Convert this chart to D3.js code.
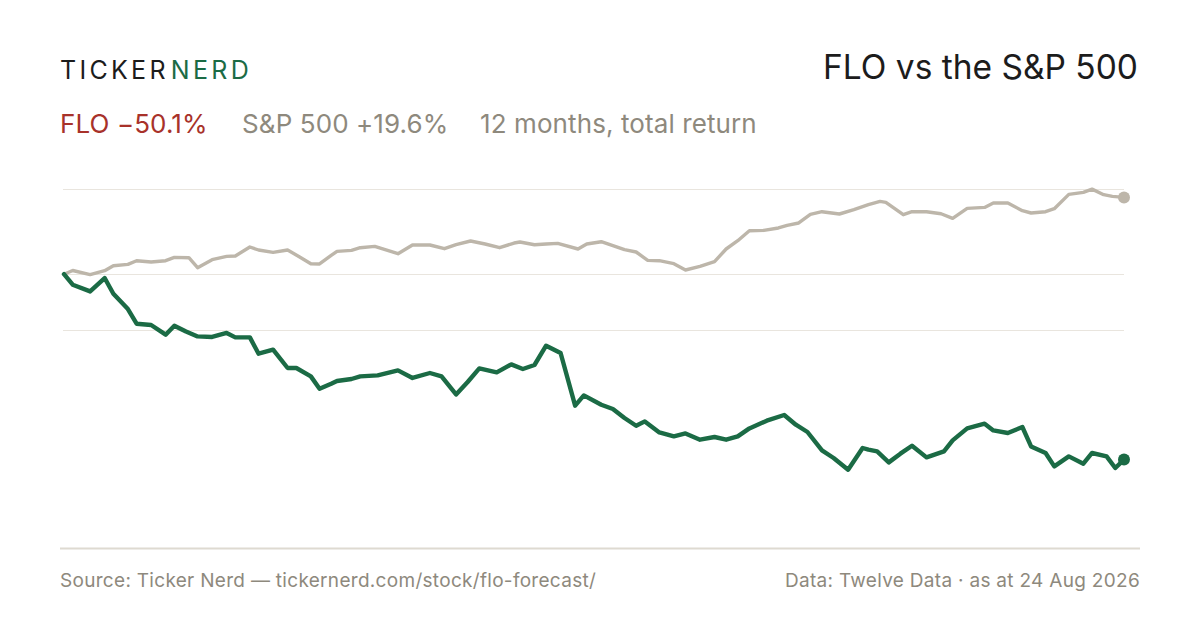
<!DOCTYPE html>
<html>
<head>
<meta charset="utf-8">
<script src="https://cdn.jsdelivr.net/npm/d3@7/dist/d3.min.js"></script>
<style>
  html, body { margin: 0; padding: 0; background: #ffffff; }
  svg { display: block; }
  text { font-family: Inter, "Noto Sans", "Liberation Sans", sans-serif; }
</style>
</head>
<body>
<svg id="chart" width="1200" height="630"></svg>
<script>
// ---- Data ----
const startDate = "2025-08-24";
const endDate = "2026-08-24";

// day offsets from start date, and cumulative return in %
const spxDays = [0,3,9,14,17,22,25,30,35,38,43,46,51,56,59,64,67,72,77,81,85,88,92,94,99,102,107,115,120,126,131,135,140,145,150,155,157,162,166,170,177,180,185,188,193,197,201,205,210,214,219,224,228,232,236,241,246,249,253,257,261,267,272,277,281,283,289,292,297,302,306,311,317,320,325,330,333,338,341,346,351,354,358,361,365];
const spxReturns = [0,1.0,-0.1,0.95,2.3,2.65,3.65,3.3,3.65,4.54,4.46,1.76,3.92,4.81,4.92,7.35,6.54,5.89,6.54,4.73,2.84,2.76,5.08,6.16,6.43,7.16,7.51,5.54,7.89,7.89,6.89,7.97,8.97,8.16,7.16,8.43,8.70,7.97,8.16,8.32,6.81,8.16,8.78,7.97,6.62,6.0,3.73,3.65,2.84,1.14,2.11,3.38,6.81,9.05,11.76,11.84,12.49,13.19,13.84,16.16,16.89,16.27,17.43,18.78,19.68,19.41,16.08,16.89,16.89,16.35,15.08,17.78,18.05,19.24,19.24,17.16,16.54,16.89,17.7,21.57,22.11,23.0,21.49,21.03,20.76];

const floDays = [0,3,9,14,17,22,25,30,35,38,42,46,51,56,59,64,67,72,77,80,85,88,92,94,99,102,108,115,120,126,130,135,139,143,149,154,158,162,166,171,176,179,185,189,193,197,200,205,210,214,219,224,228,232,236,242,248,252,256,261,265,270,275,277,280,284,288,292,297,303,306,311,317,320,325,330,333,338,341,346,351,354,359,362,365];
const floReturns = [0,-2.84,-4.65,-1.03,-5.27,-9.41,-13.38,-13.73,-16.35,-13.92,-15.46,-16.81,-16.97,-15.89,-17.08,-17.08,-21.49,-20.41,-25.35,-25.35,-27.62,-30.95,-29.59,-28.86,-28.32,-27.62,-27.35,-26.0,-28.05,-26.7,-27.62,-32.49,-29.14,-25.46,-26.54,-24.38,-25.62,-24.54,-19.32,-21.3,-35.54,-32.76,-35.27,-36.43,-38.86,-40.95,-39.78,-42.76,-43.84,-43.03,-44.73,-44.0,-44.73,-43.84,-41.68,-39.59,-38.05,-40.68,-42.65,-47.62,-49.68,-52.84,-46.97,-47.43,-47.89,-50.86,-48.51,-46.35,-49.51,-47.89,-44.92,-41.68,-40.41,-42.22,-42.92,-41.3,-46.54,-48.32,-51.95,-49.24,-51.22,-48.32,-49.24,-52.38,-50.1];

const gridTicks = [23, 0, -15];
const yDomain = [-74, 26];

const brandWords = ["TICKER", "NERD"];
const titleText = "FLO vs the S&P 500";
const floLabel = "FLO \u221250.1%";
const spxLabel = "S&P 500 +19.6%";
const periodLabel = "12 months, total return";
const sourceText = "Source: Ticker Nerd \u2014 tickernerd.com/stock/flo-forecast/";
const dataText = "Data: Twelve Data \u00b7 as at 24 Aug 2026";

// ---- Colours ----
const GREEN = "#1b6b45";
const GREY_LINE = "#bdb6aa";
const RED = "#a8322a";
const MUTED = "#8e897d";
const INK = "#1c1c1c";

// ---- Chart ----
const svg = d3.select("#chart");
svg.append("rect").attr("width", 1200).attr("height", 630).attr("fill", "#ffffff");

const parse = d3.utcParse("%Y-%m-%d");
const t0 = parse(startDate), t1 = parse(endDate);
const x = d3.scaleUtc().domain([t0, t1]).range([64, 1124]);
const y = d3.scaleLinear().domain(yDomain).range([548, 178]);

const toPoints = (days, vals) => days.map((d, i) => ({ date: d3.utcDay.offset(t0, d), v: vals[i] }));
const spx = toPoints(spxDays, spxReturns);
const flo = toPoints(floDays, floReturns);

// gridlines
svg.append("g").selectAll("line").data(gridTicks).join("line")
  .attr("x1", 63).attr("x2", 1124)
  .attr("y1", d => Math.round(y(d)) + 0.5).attr("y2", d => Math.round(y(d)) + 0.5)
  .attr("stroke", "#e9e5de").attr("stroke-width", 1.2);

// baseline axis
svg.append("line").attr("x1", 60).attr("x2", 1140).attr("y1", 548.5).attr("y2", 548.5)
  .attr("stroke", "#dedad1").attr("stroke-width", 2);

const line = d3.line().x(d => x(d.date)).y(d => y(d.v)).curve(d3.curveLinear);

svg.append("path").datum(spx).attr("d", line)
  .attr("fill", "none").attr("stroke", GREY_LINE).attr("stroke-width", 3.4)
  .attr("stroke-linejoin", "round").attr("stroke-linecap", "round");
svg.append("path").datum(flo).attr("d", line)
  .attr("fill", "none").attr("stroke", GREEN).attr("stroke-width", 4.4)
  .attr("stroke-linejoin", "round").attr("stroke-linecap", "round");

const lastSpx = spx[spx.length - 1], lastFlo = flo[flo.length - 1];
svg.append("circle").attr("cx", x(lastSpx.date)).attr("cy", y(lastSpx.v)).attr("r", 6).attr("fill", GREY_LINE);
svg.append("circle").attr("cx", x(lastFlo.date)).attr("cy", y(lastFlo.v)).attr("r", 6).attr("fill", GREEN);

// ---- Header ----
const brand = svg.append("text").attr("x", 60).attr("y", 79)
  .attr("font-size", 25).attr("letter-spacing", 3.3).attr("font-weight", 400);
brand.append("tspan").attr("fill", INK).text(brandWords[0]);
brand.append("tspan").attr("fill", GREEN).attr("dx", 2).text(brandWords[1]);

svg.append("text").attr("x", 1138).attr("y", 79).attr("text-anchor", "end")
  .attr("font-size", 33.5).attr("fill", INK).text(titleText);

const sub = { size: 26, ls: 0.1 };
svg.append("text").attr("x", 60).attr("y", 133).attr("font-size", sub.size).attr("letter-spacing", sub.ls).attr("fill", RED).text(floLabel);
svg.append("text").attr("x", 242).attr("y", 133).attr("font-size", sub.size).attr("letter-spacing", sub.ls).attr("fill", MUTED).text(spxLabel);
svg.append("text").attr("x", 480).attr("y", 133).attr("font-size", sub.size).attr("letter-spacing", sub.ls).attr("fill", MUTED).text(periodLabel);

// ---- Footer ----
svg.append("text").attr("x", 60).attr("y", 587).attr("font-size", 19).attr("letter-spacing", 0.3).attr("fill", MUTED).text(sourceText);
svg.append("text").attr("x", 1140).attr("y", 587).attr("text-anchor", "end")
  .attr("font-size", 19).attr("letter-spacing", 0.3).attr("fill", MUTED).text(dataText);
</script>
</body>
</html>
